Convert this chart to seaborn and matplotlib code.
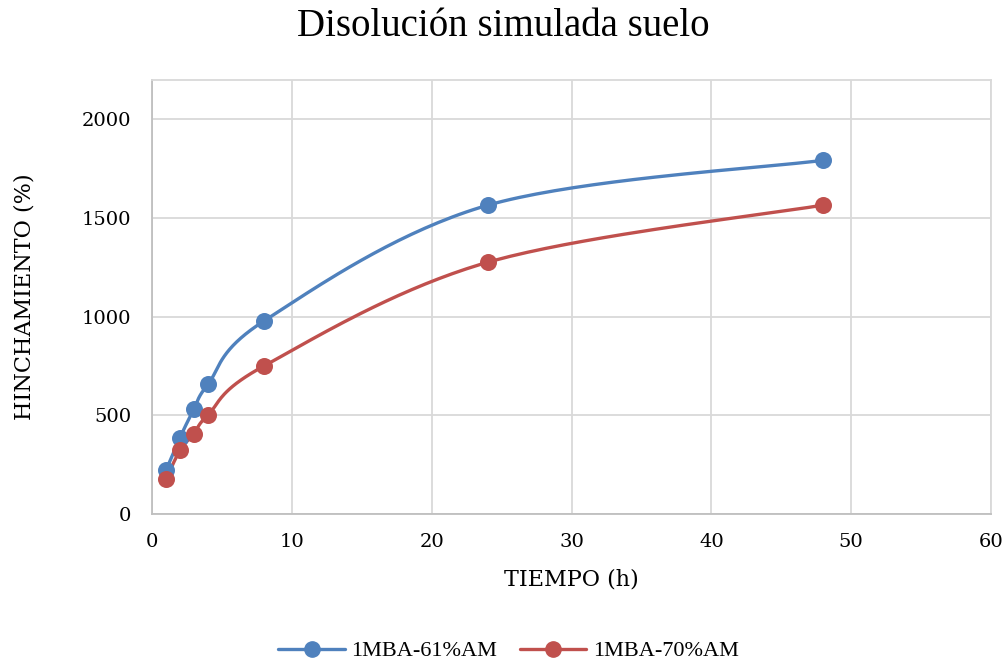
import numpy as np
import pandas as pd
import matplotlib
matplotlib.use("Agg")
import matplotlib.pyplot as plt
from matplotlib.lines import Line2D
import seaborn as sns

# Swelling measurements over time
tiempo_h = [1, 2, 3, 4, 8, 24, 48]
hinch_61 = [222, 387, 532, 657, 978, 1565, 1793]
hinch_70 = [175, 323, 407, 502, 750, 1276, 1566]
series_names = ["1MBA-61%AM", "1MBA-70%AM"]
series_colors = ["#4f81bd", "#c0504d"]

x_ticks = [0, 10, 20, 30, 40, 50, 60]
y_ticks = [0, 500, 1000, 1500, 2000]

sns.set_theme(style="white")
plt.rcParams["font.family"] = ["DejaVu Serif"]
for key in ["text.color", "axes.labelcolor", "xtick.color", "ytick.color"]:
    plt.rcParams[key] = "#000000"

fig = plt.figure(figsize=(10.07, 6.66), dpi=100)
ax = fig.add_axes([152 / 1007, 1 - 514 / 666, (991 - 152) / 1007, (514 - 80) / 666])
ax.set_xlim(0, 60)
ax.set_ylim(0, 2200)

# pixel scale used for smoothing the curves in screen space
sx = (991 - 152) / 60.0
sy = (514 - 80) / 2200.0


def smooth(xs, ys, n=40):
    """Cardinal (Catmull-Rom) Bezier smoothing in display proportions."""
    P = np.column_stack([np.array(xs, float) * sx, np.array(ys, float) * sy])
    pts = [P[0]]
    for i in range(len(P) - 1):
        p0 = P[i - 1] if i > 0 else P[i]
        p1, p2 = P[i], P[i + 1]
        p3 = P[i + 2] if i + 2 < len(P) else P[i + 1]
        c1 = p1 + (p2 - p0) / 6.0
        c2 = p2 - (p3 - p1) / 6.0
        t = np.linspace(0, 1, n)[1:, None]
        seg = ((1 - t) ** 3) * p1 + 3 * ((1 - t) ** 2) * t * c1 + 3 * (1 - t) * t ** 2 * c2 + t ** 3 * p2
        pts.extend(seg)
    pts = np.array(pts)
    return pts[:, 0] / sx, pts[:, 1] / sy


for vals, name, col in zip([hinch_61, hinch_70], series_names, series_colors):
    cx, cy = smooth(tiempo_h, vals)
    curve = pd.DataFrame({"x": cx, "y": cy})
    sns.lineplot(data=curve, x="x", y="y", sort=False, color=col, linewidth=2.4,
                 ax=ax, zorder=3, estimator=None)
    pts = pd.DataFrame({"TIEMPO": tiempo_h, "HINCH": vals})
    sns.scatterplot(data=pts, x="TIEMPO", y="HINCH", color=col, s=150,
                    edgecolor=col, linewidth=0, ax=ax, zorder=4)

ax.set_xticks(x_ticks)
ax.set_yticks(y_ticks)
ax.grid(True, color="#d9d9d9", linewidth=1.3)
ax.set_axisbelow(True)
for sp in ax.spines.values():
    sp.set_color("#d9d9d9")
    sp.set_linewidth(1.3)
for sp in ["left", "bottom"]:
    ax.spines[sp].set_color("#bfbfbf")
ax.tick_params(axis="y", length=0, labelsize=14, pad=15)
ax.tick_params(axis="x", length=0, labelsize=14, pad=14)

ax.set_xlabel("TIEMPO (h)", fontsize=16, labelpad=12)
ax.set_ylabel("HINCHAMIENTO (%)", fontsize=16, labelpad=33)
fig.text(0.5, 1 - 26 / 666, "Disolución simulada suelo", ha="center", va="center",
         fontsize=28, family="Liberation Serif")

handles = [Line2D([0], [0], color=c, linewidth=2.4, marker="o", markersize=11)
           for c in series_colors]
fig.legend(handles, series_names, loc="center", bbox_to_anchor=(0.505, 1 - 651 / 666),
           ncol=2, frameon=False, handlelength=3.0, columnspacing=1.0,
           handletextpad=0.3, prop={"family": "Liberation Serif", "size": 16})

fig.savefig("out.png", dpi=100)
